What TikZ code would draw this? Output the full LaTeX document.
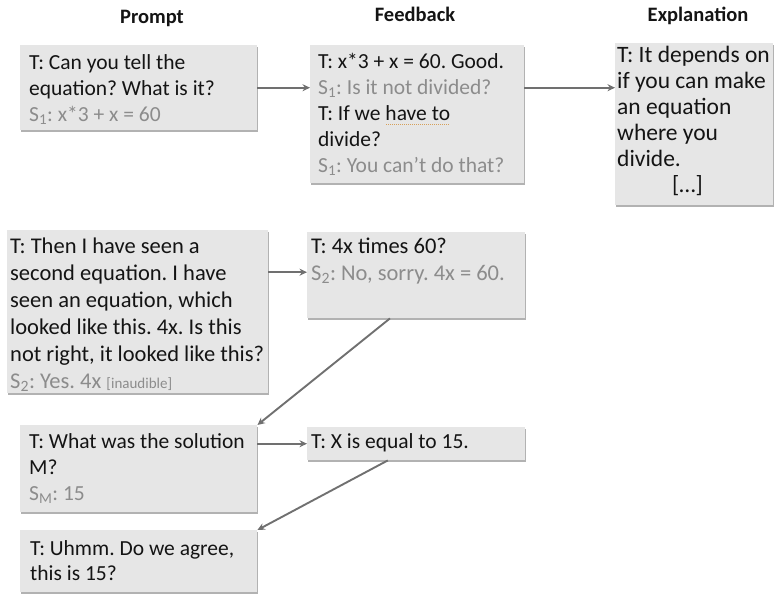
\documentclass[tikz,border=0pt]{standalone}
\usepackage{fontspec}
\setmainfont{Carlito}
\usetikzlibrary{arrows.meta,shadows,calc}
\definecolor{cardfill}{RGB}{230,230,230}
\definecolor{tx}{RGB}{20,20,20}
\definecolor{sx}{RGB}{140,140,140}
\definecolor{arr}{RGB}{112,112,112}
\definecolor{spell}{RGB}{214,160,90}
\frenchspacing
\newcommand\cardbody[4]{\parbox[t][#2][t]{#1}{\vspace*{#3}\raggedright\frenchspacing\strut#4}}
\newcommand\stu[2]{{\color{sx}S\textsubscript{#1}: #2}}
\begin{document}
\begin{tikzpicture}[x=1pt,y=-1pt,
  card/.style={fill=cardfill, text=tx, anchor=north west, inner ysep=0pt,
    drop shadow={shadow xshift=1.2pt, shadow yshift=-1.8pt, fill=black, opacity=0.3}},
  fa/.style={font=\fontsize{21.5}{26}\selectfont},
  fb/.style={font=\fontsize{22.5}{27}\selectfont},
  fc/.style={font=\fontsize{23.5}{26}\selectfont},
  head/.style={anchor=base, text=tx, font=\fontsize{20.5}{24}\selectfont\bfseries},
  link/.style={draw=arr, line width=1.9pt, -{Stealth[length=7.5pt,width=7pt]}},
  spellmark/.style={draw=spell, line width=0.9pt, dash pattern=on 1pt off 1pt}]
\useasboundingbox (0,0) rectangle (775,594);

% headers
\node[head] (hP) at (152,24) {Prompt};
\node[head] (hF) at (415,22) {Feedback};
\node[head] (hE) at (698,22) {Explanation};

% cards
\node[card, fa, inner xsep=9pt] (A) at (20,45)
  {\cardbody{219pt}{85pt}{5.8pt}{T: Can you tell the\\ equation? What is it?\\ \stu{1}{x*3 + x = 60}}};
\node[card, fa, inner xsep=8pt] (B) at (310,45)
  {\cardbody{198pt}{138pt}{4.8pt}{T: x*3 + x = 60. Good.\\ \stu{1}{Is it not divided?}\\ T: If we have to\\ divide?\\ \stu{1}{You can’t do that?}}};
\node[card, fc, inner xsep=2pt] (C) at (615,43)
  {\cardbody{154pt}{162pt}{0.8pt}{T: It depends on\\ if you can make\\ an equation\\ where you\\ divide.\\ \hspace*{55pt}[…]}};
\node[card, fb, inner xsep=3pt] (D) at (7,230)
  {\cardbody{255pt}{163pt}{4.1pt}{T: Then I have seen a\\ second equation. I have\\ seen an equation, which\\ looked like this. 4x. Is this\\ not right, it looked like this?\\ \stu{2}{Yes. 4x {\fontsize{15}{18}\selectfont[inaudible]}}}};
\node[card, fb, inner xsep=4pt] (E) at (307,232)
  {\cardbody{210pt}{86pt}{2.1pt}{T: 4x times 60?\\ \stu{2}{No, sorry. 4x = 60.}}};
\node[card, fa, inner xsep=9pt] (F) at (20,425)
  {\cardbody{219pt}{87pt}{4.8pt}{T: What was the solution\\ M?\\ \stu{M}{15}}};
\node[card, fa, inner xsep=4pt] (G) at (307,427)
  {\cardbody{210pt}{33pt}{2.8pt}{T: X is equal to 15.}};
\node[card, font=\fontsize{21.5}{25}\selectfont, inner xsep=10pt] (H) at (20,530)
  {\cardbody{217pt}{62pt}{7.5pt}{T: Uhmm. Do we agree,\\ this is 15?}};

% spell-check mark under "have to"
\draw[spellmark] ($(B.north west)+(76,79)$) -- ($(B.north west)+(139,79)$);

% connectors
\draw[link] (A.east) -- (A.east -| B.west);
\draw[link] (A.east -| B.east) -- (A.east -| C.west);
\draw[link] ([yshift=3pt]E.west -| D.east) -- ([yshift=3pt]E.west);
\draw[link] (G.west -| F.east) -- (G.west);
\draw[link] ($(E.south west)!0.38!(E.south east)$) -- (F.north east);
\draw[link] ($(G.south west)!0.37!(G.south east)$) -- (H.north east);
\end{tikzpicture}
\end{document}
